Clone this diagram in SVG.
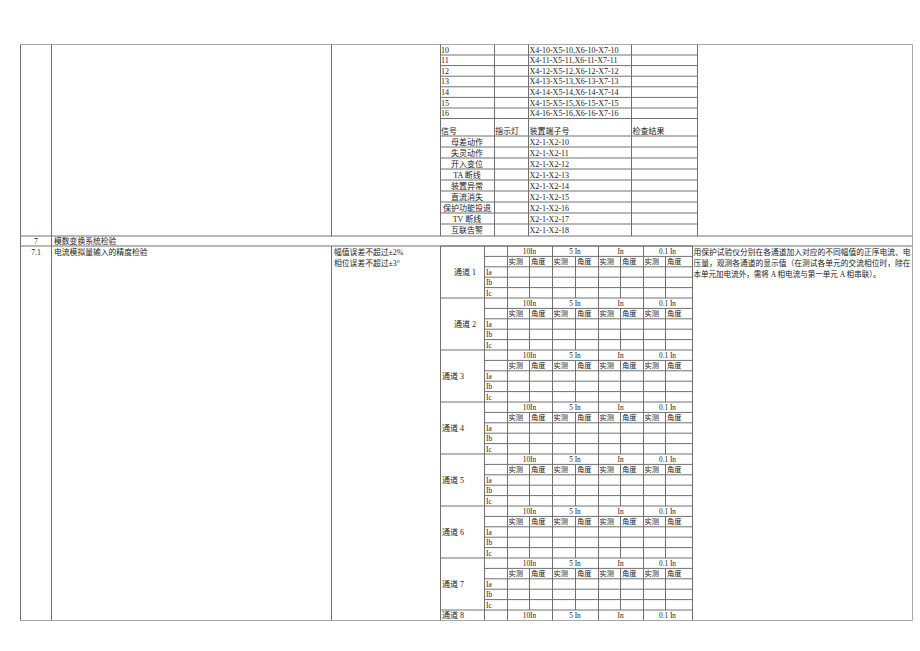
<svg xmlns="http://www.w3.org/2000/svg" xmlns:xlink="http://www.w3.org/1999/xlink" width="920" height="651" viewBox="0 0 920 651">
<style>
.ln{stroke:#707070;stroke-width:1;fill:none}
.lo{stroke:#a8a8a8;stroke-width:1;fill:none}
text{font-family:"Liberation Serif","Noto Sans CJK SC",serif;fill:#222}
.t8{font-size:8px}
.t7{font-size:7.3px}
.tl{font-size:7.8px}
.c{text-anchor:middle}
</style>
<defs>
<g id="chan">
<path class="ln" d="M440.5 0H692.5M484.5 10.4H692.5M484.5 20.8H692.5M484.5 31.2H692.5M484.5 41.6H692.5M484.5 0V52M507.5 0V52M552.5 0V52M598.5 0V52M643.5 0V52M529.5 10.4V52M575.5 10.4V52M620.5 10.4V52M665.5 10.4V52"/>
<g class="t7">
<text class="c" x="529.5" y="8">10In</text>
<text class="c" x="575" y="8">5 In</text>
<text class="c" x="620.5" y="8">In</text>
<text class="c" x="667.5" y="8">0.1 In</text>
<text x="508.5" y="18.4">实测</text><text x="531" y="18.4">角度</text>
<text x="553.5" y="18.4">实测</text><text x="577" y="18.4">角度</text>
<text x="599.5" y="18.4">实测</text><text x="622" y="18.4">角度</text>
<text x="644.5" y="18.4">实测</text><text x="667" y="18.4">角度</text>
<text x="486" y="28.8">Ia</text>
<text x="486" y="39.2">Ib</text>
<text x="486" y="49.6">Ic</text>
</g>
</g>
</defs>
<rect width="920" height="651" fill="#fff"/>
<g id="connectors">
<path class="lo" d="M20.5 44.5H912.5V620.5H20.5"/>
<path class="ln" d="M20.5 44.5V620.5M51.5 44.5V620.5M331.5 44.5V236M440.5 44.5V236M331.5 246V620.5M440.5 246V620.5M697.5 44.5V236M692.5 246V620.5M20.5 236H912.5M20.5 246H912.5"/>
<path class="ln" d="M494.5 44.5V236M528.5 44.5V236M631.5 44.5V236M440.5 55H697.5M440.5 65.6H697.5M440.5 76.2H697.5M440.5 86.8H697.5M440.5 97.4H697.5M440.5 108H697.5M440.5 118.5H697.5M440.5 136H697.5M440.5 147H697.5M440.5 158H697.5M440.5 169H697.5M440.5 180H697.5M440.5 191H697.5M440.5 202H697.5M440.5 213H697.5M440.5 224H697.5"/>
</g>
<g id="terminal-table" class="t8">
<text x="441" y="52.6">10</text><text x="529.5" y="52.6">X4-10-X5-10,X6-10-X7-10</text>
<text x="441" y="63.2">11</text><text x="529.5" y="63.2">X4-11-X5-11,X6-11-X7-11</text>
<text x="441" y="73.8">12</text><text x="529.5" y="73.8">X4-12-X5-12,X6-12-X7-12</text>
<text x="441" y="84.4">13</text><text x="529.5" y="84.4">X4-13-X5-13,X6-13-X7-13</text>
<text x="441" y="95">14</text><text x="529.5" y="95">X4-14-X5-14,X6-14-X7-14</text>
<text x="441" y="105.6">15</text><text x="529.5" y="105.6">X4-15-X5-15,X6-15-X7-15</text>
<text x="441" y="116.2">16</text><text x="529.5" y="116.2">X4-16-X5-16,X6-16-X7-16</text>
</g>
<g id="signal-table" class="t8">
<text x="441" y="133.8">信号</text><text x="495" y="133.8">指示灯</text><text x="529.5" y="133.8">装置端子号</text><text x="632.5" y="133.8">检查结果</text>
<text class="c" x="467" y="144.5">母差动作</text><text x="529.5" y="144.5">X2-1-X2-10</text>
<text class="c" x="467" y="155.5">失灵动作</text><text x="529.5" y="155.5">X2-1-X2-11</text>
<text class="c" x="467" y="166.5">开入变位</text><text x="529.5" y="166.5">X2-1-X2-12</text>
<text class="c" x="467" y="177.5">TA 断线</text><text x="529.5" y="177.5">X2-1-X2-13</text>
<text class="c" x="467" y="188.5">装置异常</text><text x="529.5" y="188.5">X2-1-X2-14</text>
<text class="c" x="467" y="199.5">直流消失</text><text x="529.5" y="199.5">X2-1-X2-15</text>
<text class="c" x="467" y="210.5">保护功能投退</text><text x="529.5" y="210.5">X2-1-X2-16</text>
<text class="c" x="467" y="221.5">TV 断线</text><text x="529.5" y="221.5">X2-1-X2-17</text>
<text class="c" x="467" y="232.5">互联告警</text><text x="529.5" y="232.5">X2-1-X2-18</text>
</g>
<g id="row-7" class="tl">
<text class="c" x="36" y="244">7</text>
<text x="54" y="244">模数变换系统检验</text>
</g>
<g id="row-7-1" class="tl">
<text class="c" x="36" y="255">7.1</text>
<text x="54" y="255">电流模拟量输入的精度检验</text>
<text x="334" y="255">幅值误差不超过±2%</text>
<text x="334" y="265.5">相位误差不超过±3°</text>
<text x="693.5" y="254.5" textLength="217" lengthAdjust="spacingAndGlyphs">用保护试验仪分别在各通道加入对应的不同幅值的正序电流、电</text>
<text x="693.5" y="265.5" textLength="217" lengthAdjust="spacingAndGlyphs">压量，观测各通道的显示值（在测试各单元的交流相位时，除在</text>
<text x="693.5" y="276.5" textLength="187" lengthAdjust="spacingAndGlyphs">本单元加电流外，需将 A 相电流与第一单元 A 相串联）。</text>
</g>
<g id="channel-1"><use xlink:href="#chan" transform="translate(0,246)"/><text class="t8 c" x="465" y="275">通道 1</text></g>
<g id="channel-2"><use xlink:href="#chan" transform="translate(0,298)"/><text class="t8 c" x="465" y="327">通道 2</text></g>
<g id="channel-3"><use xlink:href="#chan" transform="translate(0,350)"/><text class="t8" x="442" y="379">通道 3</text></g>
<g id="channel-4"><use xlink:href="#chan" transform="translate(0,402)"/><text class="t8" x="442" y="431">通道 4</text></g>
<g id="channel-5"><use xlink:href="#chan" transform="translate(0,454)"/><text class="t8" x="442" y="483">通道 5</text></g>
<g id="channel-6"><use xlink:href="#chan" transform="translate(0,506)"/><text class="t8" x="442" y="535">通道 6</text></g>
<g id="channel-7"><use xlink:href="#chan" transform="translate(0,558)"/><text class="t8" x="442" y="587">通道 7</text></g>
<g id="channel-8">
<path class="ln" d="M440.5 610H692.5M484.5 610V620.5M507.5 610V620.5M552.5 610V620.5M598.5 610V620.5M643.5 610V620.5"/>
<text class="t8" x="442" y="618">通道 8</text>
<g class="t7">
<text class="c" x="529.5" y="618">10In</text>
<text class="c" x="575" y="618">5 In</text>
<text class="c" x="620.5" y="618">In</text>
<text class="c" x="667.5" y="618">0.1 In</text>
</g>
</g>
</svg>
